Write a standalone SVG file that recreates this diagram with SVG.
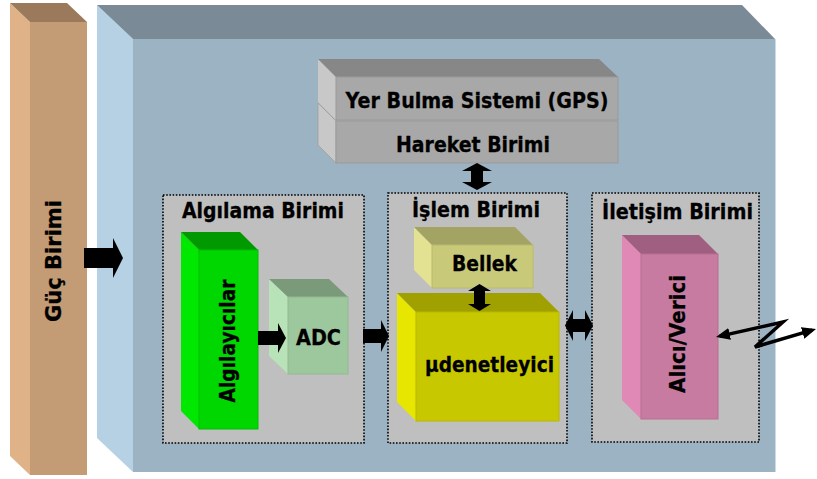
<svg xmlns="http://www.w3.org/2000/svg" width="817" height="479" viewBox="0 0 817 479">
  <style>
    .lbl { font-family: "DejaVu Sans", "Liberation Sans", sans-serif; font-weight: bold; fill: #000; stroke: #000; stroke-width: 0.3; text-anchor: middle; font-size: 21px; }
    .group { fill: #BFBFBF; stroke: #000; stroke-width: 1.6; stroke-dasharray: 1.6 1.6; }
    .blk { fill: #000; }
    .wire { fill: none; stroke: #000; stroke-width: 3.5; stroke-linejoin: miter; }
  </style>
  <defs>
    <marker id="tip" viewBox="0 0 14 12" refX="10" refY="6" markerWidth="14" markerHeight="12" markerUnits="userSpaceOnUse" orient="auto-start-reverse">
      <path d="M0,0 L14,6 L0,12 z" fill="#000"/>
    </marker>
  </defs>

  <!-- power unit bar -->
  <g id="guc-birimi">
    <polygon points="10,3 30,22 30,475 10,456" fill="#DFB387"/>
    <polygon points="10,3 67,3 87,22 30,22" fill="#9A7A5B"/>
    <rect x="30" y="22" width="57" height="453" fill="#C39B75"/>
    <text class="lbl" transform="translate(61,261) rotate(-90)" textLength="122" lengthAdjust="spacingAndGlyphs">Güç Birimi</text>
  </g>

  <!-- node enclosure -->
  <g id="dugum">
    <polygon points="97,5 133,39 133,472 97,438" fill="#B6D1E3"/>
    <polygon points="97,5 742,5 775,39 133,39" fill="#7A8B97"/>
    <rect x="133" y="39" width="642" height="433" fill="#9CB3C4"/>
    <line x1="775.5" y1="39" x2="775.5" y2="472" stroke="#C9DCE8" stroke-width="1"/>
  </g>

  <!-- positioning and motion units -->
  <g id="gps">
    <polygon points="318,59 336,77 336,120 318,102" fill="#C8C8C8"/>
    <polygon points="318,59 599,59 618,77 336,77" fill="#878787"/>
    <rect x="336" y="77" width="282" height="43" fill="#A8A8A8" stroke="#9A9A9A" stroke-width="1"/>
    <text class="lbl" x="477" y="108" textLength="263" lengthAdjust="spacingAndGlyphs">Yer Bulma Sistemi (GPS)</text>
  </g>
  <g id="hareket-birimi">
    <polygon points="318,103 336,121 336,163 318,145" fill="#C8C8C8" stroke="#A0A0A0" stroke-width="0.8"/>
    <rect x="336" y="121" width="282" height="42" fill="#A8A8A8" stroke="#9A9A9A" stroke-width="1"/>
    <text class="lbl" x="473" y="152" textLength="154" lengthAdjust="spacingAndGlyphs">Hareket Birimi</text>
  </g>

  <!-- sensing unit -->
  <g id="algilama-birimi">
    <rect class="group" x="163" y="195" width="201" height="248"/>
    <text class="lbl" x="263" y="218" textLength="162" lengthAdjust="spacingAndGlyphs">Algılama Birimi</text>
  </g>
  <g id="algilayicilar">
    <polygon points="181,232 199,250 199,429 181,411" fill="#00E800"/>
    <polygon points="181,232 240,232 258,250 199,250" fill="#009A00"/>
    <rect x="199" y="250" width="59" height="179" fill="#00D600" stroke="#00C000" stroke-width="1"/>
    <text class="lbl" transform="translate(235,341) rotate(-90)" textLength="123" lengthAdjust="spacingAndGlyphs">Algılayıcılar</text>
  </g>
  <g id="adc">
    <polygon points="269,279 288,297 288,374 269,356" fill="#B8E2B8"/>
    <polygon points="269,279 329,279 348,297 288,297" fill="#7A9A7A"/>
    <rect x="288" y="297" width="60" height="77" fill="#9DC79D" stroke="#92BA92" stroke-width="1"/>
    <text class="lbl" x="318.5" y="345" textLength="45" lengthAdjust="spacingAndGlyphs">ADC</text>
  </g>

  <!-- processing unit -->
  <g id="islem-birimi">
    <rect class="group" x="388" y="193" width="179" height="250"/>
    <text class="lbl" x="476" y="217" textLength="128" lengthAdjust="spacingAndGlyphs">İşlem Birimi</text>
  </g>
  <g id="bellek">
    <polygon points="414,227 432,245 432,288 414,270" fill="#E2E292"/>
    <polygon points="414,227 515,227 533,245 432,245" fill="#A3A363"/>
    <rect x="432" y="245" width="101" height="43" fill="#C9C97A" stroke="#BABA6C" stroke-width="1"/>
    <text class="lbl" x="484.5" y="271" textLength="65" lengthAdjust="spacingAndGlyphs">Bellek</text>
  </g>
  <g id="mikrodenetleyici">
    <polygon points="397,293 416,312 416,421 397,402" fill="#E6E600"/>
    <polygon points="397,293 540,293 559,312 416,312" fill="#A0A000"/>
    <rect x="416" y="312" width="143" height="109" fill="#C8C800" stroke="#B8B800" stroke-width="1"/>
    <text class="lbl" x="489.5" y="372" textLength="129" lengthAdjust="spacingAndGlyphs">µdenetleyici</text>
  </g>

  <!-- communication unit -->
  <g id="iletisim-birimi">
    <rect class="group" x="592" y="193" width="167" height="249"/>
    <text class="lbl" x="677.5" y="219" textLength="151" lengthAdjust="spacingAndGlyphs">İletişim Birimi</text>
  </g>
  <g id="alici-verici">
    <polygon points="622,235 641,254 641,419 622,400" fill="#E088B6"/>
    <polygon points="622,235 699,235 718,254 641,254" fill="#A05E80"/>
    <rect x="641" y="254" width="77" height="165" fill="#C77BA0" stroke="#B86E92" stroke-width="1"/>
    <text class="lbl" transform="translate(685,334) rotate(-90)" textLength="118" lengthAdjust="spacingAndGlyphs">Alıcı/Verici</text>
  </g>

  <!-- connectors -->
  <g id="baglantilar">
    <polygon class="blk" points="84,248 113,248 113,238 123,258 113,278 113,268 84,268"/>
    <polygon class="blk" points="258,331 278,331 278,323 286,338 278,353 278,345 258,345"/>
    <polygon class="blk" points="363,329 381,329 381,320 389,336 381,352 381,343 363,343"/>
    <polygon class="blk" points="477,163 492,171 483,171 483,182 492,182 477,190 462,182 471,182 471,171 462,171"/>
    <polygon class="blk" points="479.5,284 491,291 485,291 485,304 491,304 479.5,311 468,304 474,304 474,291 468,291"/>
    <polygon class="blk" points="565,325.5 573,310 573,319 585,319 585,310 593,325.5 585,341 585,332 573,332 573,341"/>
    <path class="wire" d="M719.9,336.1 L783,322 L755,347 L812.2,330.1" marker-start="url(#tip)" marker-end="url(#tip)"/>
  </g>
</svg>
